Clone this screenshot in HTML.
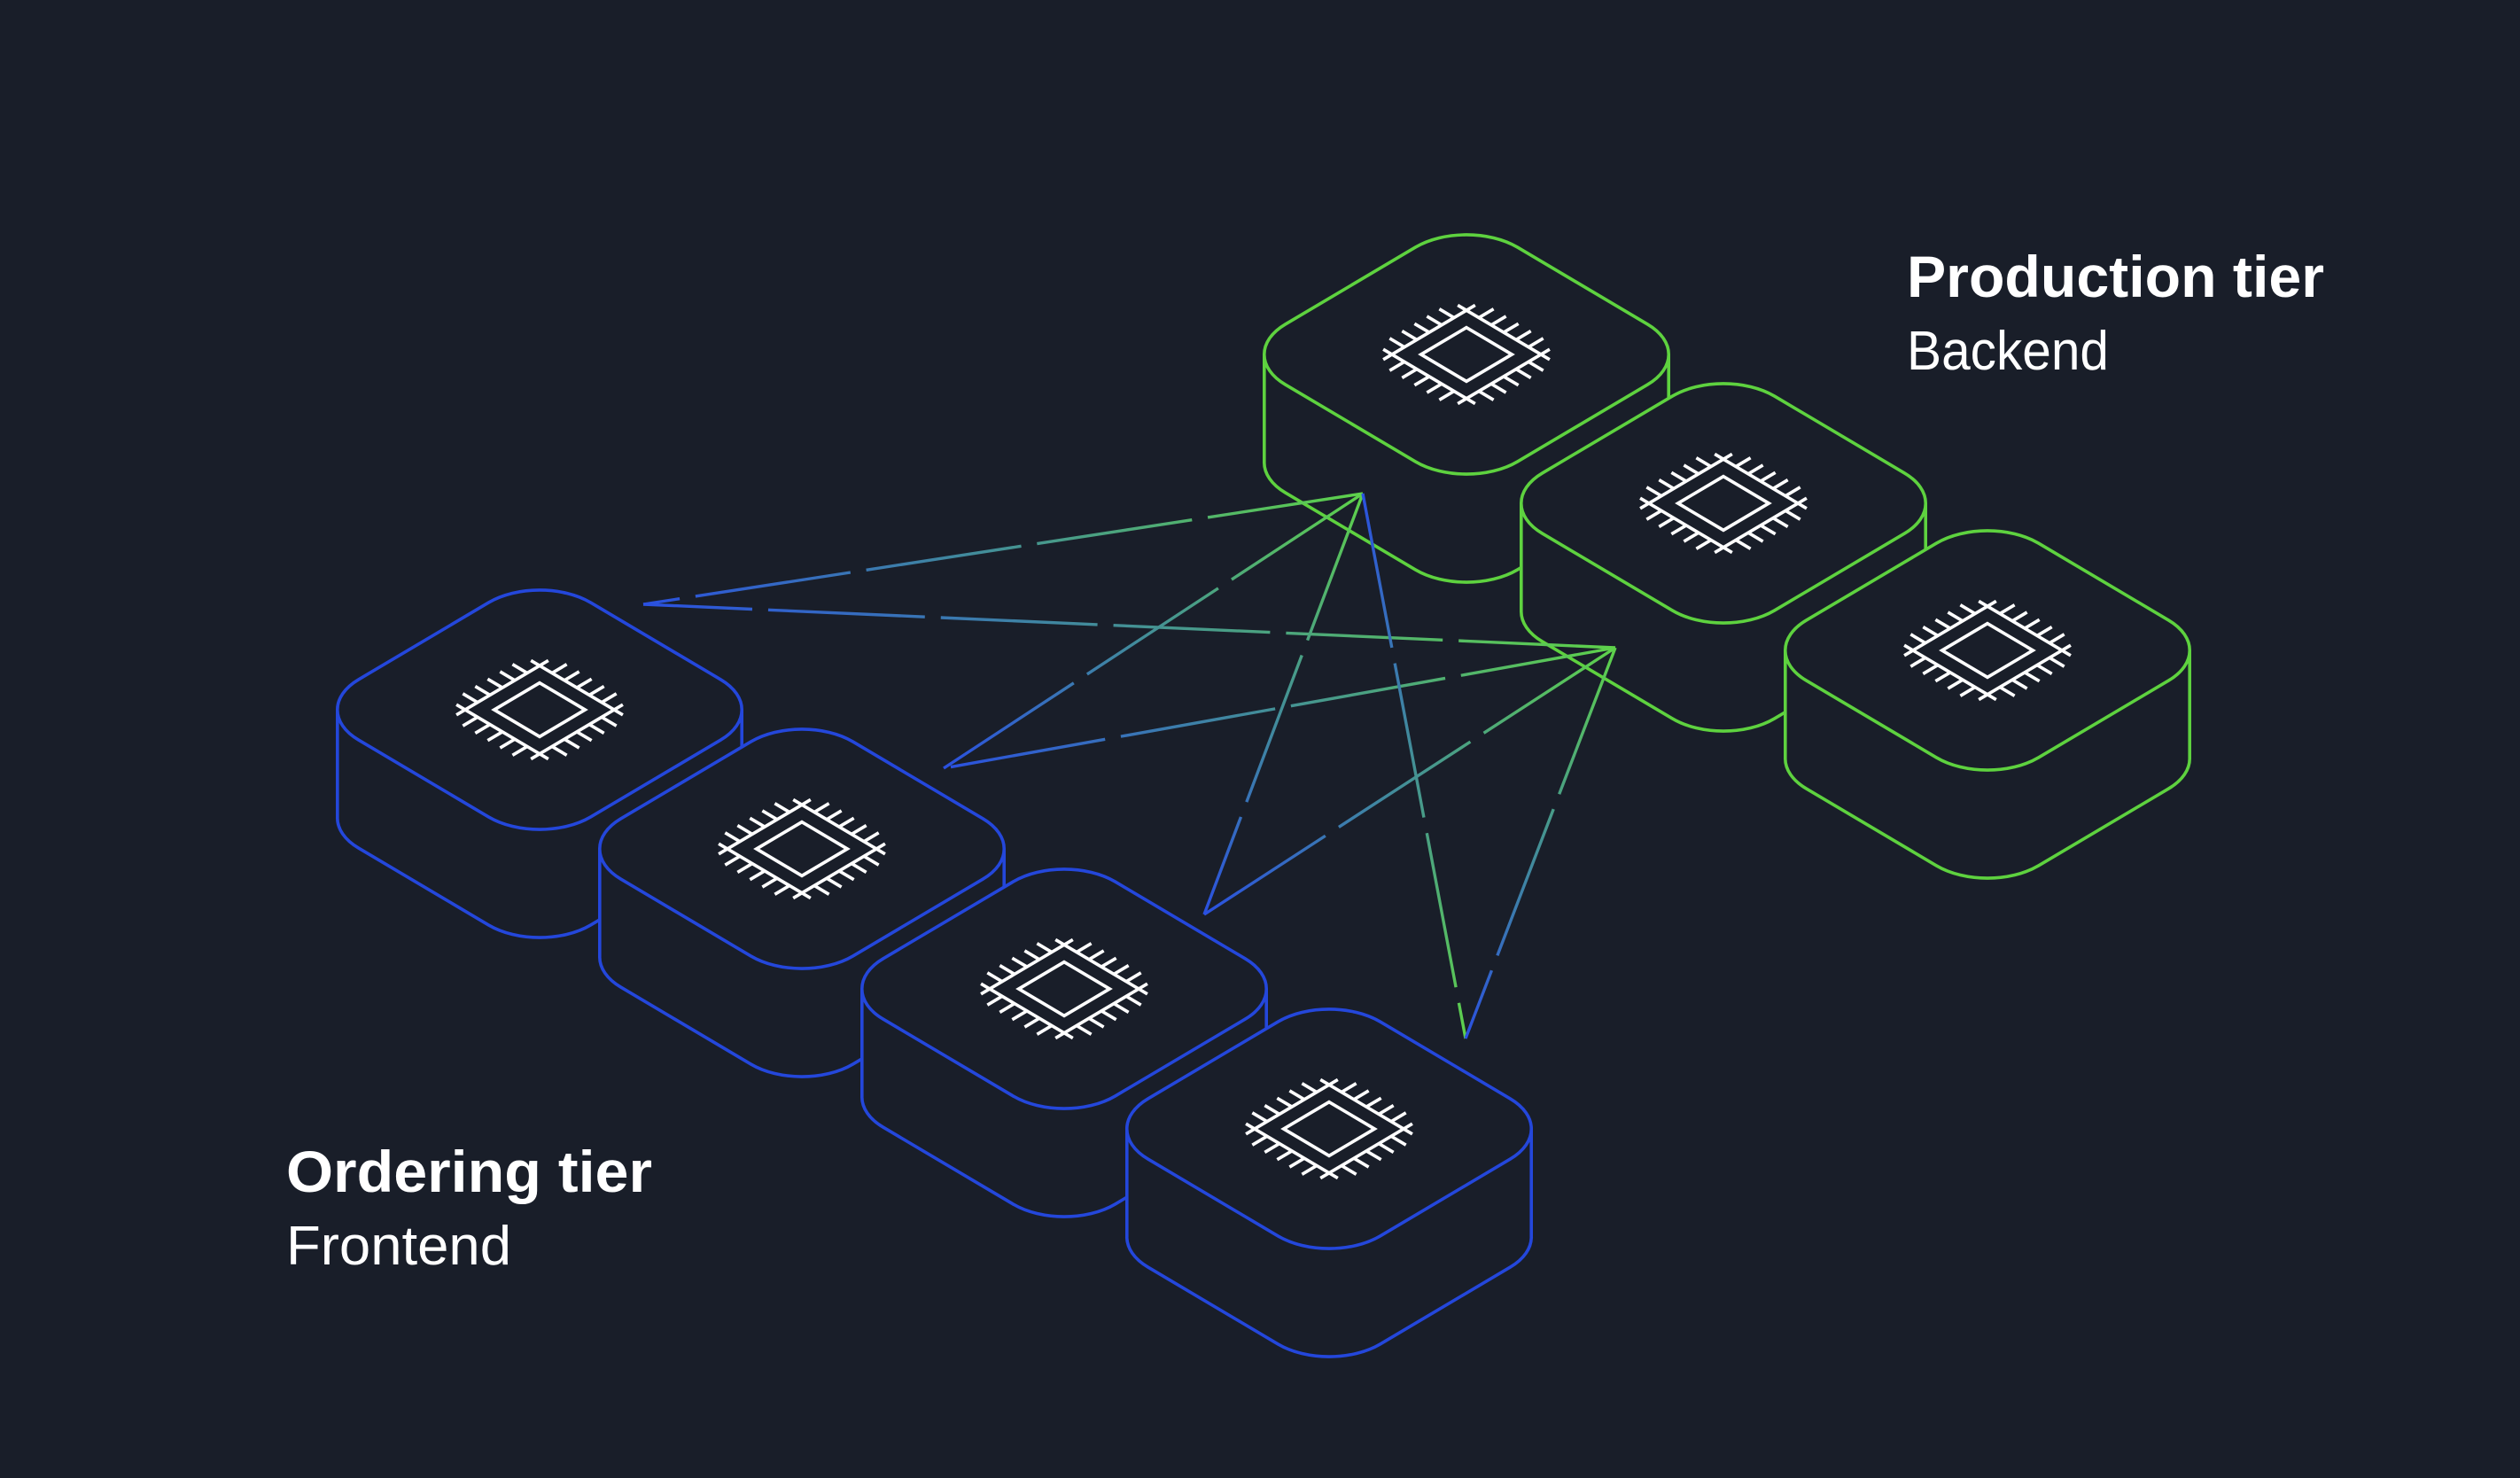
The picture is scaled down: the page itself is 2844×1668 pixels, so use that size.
<!DOCTYPE html>
<html><head><meta charset="utf-8"><style>
html,body{margin:0;padding:0;background:#191e29;}
svg{display:block}
</style></head><body>
<svg width="2844" height="1668" viewBox="0 0 2844 1668" xmlns="http://www.w3.org/2000/svg">
<rect width="2844" height="1668" fill="#191e29"/>
<defs>
<path id="rs" d="M57.64,34.1 L204.36,120.9 C236.19,139.73 236.19,170.27 204.36,189.1 L57.64,275.9 C25.81,294.73 -25.81,294.73 -57.64,275.9 L-204.36,189.1 C-236.19,170.27 -236.19,139.73 -204.36,120.9 L-57.64,34.1 C-25.81,15.27 25.81,15.27 57.64,34.1 Z"/>
<g id="chip" fill="none" stroke="#ffffff" stroke-width="3.4" stroke-linecap="butt" transform="translate(0,155) scale(1.07) translate(0,-155)">
  <path d="M9.17,103.08 L-87.77,160.43 M87.77,149.58 L-9.17,206.93 M-9.17,103.08 L87.77,160.43 M-87.77,149.58 L9.17,206.93"/>
  <path d="M13.1,116.25 l15.5,-9.2 M26.2,124 l15.5,-9.2 M39.3,131.75 l15.5,-9.2 M52.4,139.5 l15.5,-9.2 M65.5,147.25 l15.5,-9.2
  M-65.5,162.75 l-15.5,9.2 M-52.4,170.5 l-15.5,9.2 M-39.3,178.25 l-15.5,9.2 M-26.2,186 l-15.5,9.2 M-13.1,193.75 l-15.5,9.2
  M-13.1,116.25 l-15.5,-9.2 M-26.2,124 l-15.5,-9.2 M-39.3,131.75 l-15.5,-9.2 M-52.4,139.5 l-15.5,-9.2 M-65.5,147.25 l-15.5,-9.2
  M65.5,162.75 l15.5,9.2 M52.4,170.5 l15.5,9.2 M39.3,178.25 l15.5,9.2 M26.2,186 l15.5,9.2 M13.1,193.75 l15.5,9.2"/>
  <path d="M0,126.64 L47.95,155 L0,183.37 L-47.95,155 Z"/>
</g>
<g id="blk">
  <use href="#rs" transform="translate(0,122)" fill="#191e29" stroke="currentColor" stroke-width="3.6"/>
  <rect x="-228" y="155" width="456" height="122" fill="#191e29"/>
  <path d="M-228.2,155 V277 M228.2,155 V277" stroke="currentColor" stroke-width="3.6" fill="none"/>
  <use href="#rs" fill="#191e29" stroke="currentColor" stroke-width="3.6"/>
  <use href="#chip"/>
</g>
<linearGradient id="g1" gradientUnits="userSpaceOnUse" x1="726" y1="682" x2="1538" y2="557"><stop offset="0" stop-color="#2a50e0"/><stop offset="1" stop-color="#5ed24a"/></linearGradient>
<linearGradient id="g2" gradientUnits="userSpaceOnUse" x1="726" y1="682" x2="1823" y2="731"><stop offset="0" stop-color="#2a50e0"/><stop offset="1" stop-color="#5ed24a"/></linearGradient>
<linearGradient id="g3" gradientUnits="userSpaceOnUse" x1="1065" y1="867" x2="1538" y2="557"><stop offset="0" stop-color="#2a50e0"/><stop offset="1" stop-color="#5ed24a"/></linearGradient>
<linearGradient id="g4" gradientUnits="userSpaceOnUse" x1="1065" y1="867" x2="1823" y2="731"><stop offset="0" stop-color="#2a50e0"/><stop offset="1" stop-color="#5ed24a"/></linearGradient>
<linearGradient id="g5" gradientUnits="userSpaceOnUse" x1="1359" y1="1032" x2="1538" y2="557"><stop offset="0" stop-color="#2a50e0"/><stop offset="1" stop-color="#5ed24a"/></linearGradient>
<linearGradient id="g6" gradientUnits="userSpaceOnUse" x1="1359" y1="1032" x2="1823" y2="731"><stop offset="0" stop-color="#2a50e0"/><stop offset="1" stop-color="#5ed24a"/></linearGradient>
<linearGradient id="g7" gradientUnits="userSpaceOnUse" x1="1654" y1="1172" x2="1538" y2="557"><stop offset="0" stop-color="#5ed24a"/><stop offset="1" stop-color="#2a50e0"/></linearGradient>
<linearGradient id="g8" gradientUnits="userSpaceOnUse" x1="1654" y1="1172" x2="1823" y2="731"><stop offset="0" stop-color="#2a50e0"/><stop offset="1" stop-color="#5ed24a"/></linearGradient>
</defs>

<use href="#blk" transform="translate(1655,245)" style="color:#5ed23f"/>
<use href="#blk" transform="translate(1945,413)" style="color:#5ed23f"/>
<use href="#blk" transform="translate(2243,579)" style="color:#5ed23f"/>
<use href="#blk" transform="translate(609,646)" style="color:#2447db"/>
<use href="#blk" transform="translate(905,803)" style="color:#2447db"/>
<use href="#blk" transform="translate(1201,961)" style="color:#2447db"/>
<use href="#blk" transform="translate(1500,1119)" style="color:#2447db"/>

<g fill="none" stroke-width="3.4" stroke-dasharray="177 18">
<line x1="1538" y1="557" x2="726" y2="682" stroke="url(#g1)"/>
<line x1="1823" y1="731" x2="726" y2="682" stroke="url(#g2)"/>
<line x1="1538" y1="557" x2="1065" y2="867" stroke="url(#g3)"/>
<line x1="1823" y1="731" x2="1065" y2="867" stroke="url(#g4)"/>
<line x1="1538" y1="557" x2="1359" y2="1032" stroke="url(#g5)"/>
<line x1="1823" y1="731" x2="1359" y2="1032" stroke="url(#g6)"/>
<line x1="1538" y1="557" x2="1654" y2="1172" stroke="url(#g7)"/>
<line x1="1823" y1="731" x2="1654" y2="1172" stroke="url(#g8)"/>
</g>

<g fill="#ffffff" font-family="'Liberation Sans', 'DejaVu Sans', sans-serif">
<text x="2152" y="335" font-size="66" font-weight="bold" textLength="471" lengthAdjust="spacingAndGlyphs">Production tier</text>
<text x="2152" y="417" font-size="62" textLength="228" lengthAdjust="spacingAndGlyphs">Backend</text>
<text x="323" y="1345" font-size="66" font-weight="bold" textLength="413" lengthAdjust="spacingAndGlyphs">Ordering tier</text>
<text x="323" y="1427" font-size="62" textLength="254" lengthAdjust="spacingAndGlyphs">Frontend</text>
</g>
</svg>
</body></html>
